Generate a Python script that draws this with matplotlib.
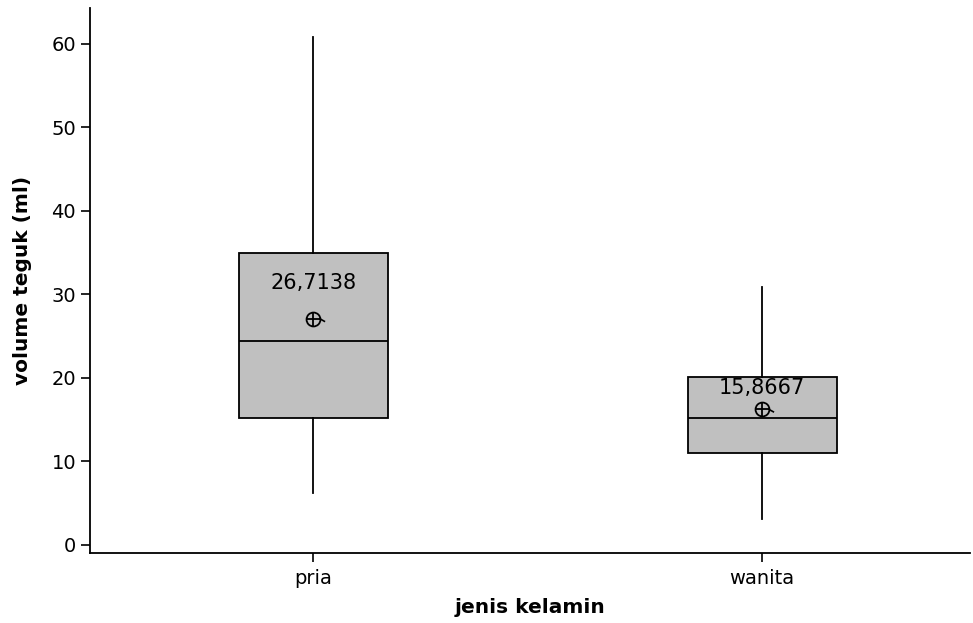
import matplotlib.pyplot as plt
import numpy as np

# Daten
kategorien = ["pria", "wanita"]
whisker_unten = [6.2, 3.1]
q1 = [15.2, 11.0]
median = [24.4, 15.2]
q3 = [35.0, 20.1]
whisker_oben = [60.8, 30.9]
mittelwert = [26.7138, 15.8667]
mittelwert_text = ["26,7138", "15,8667"]

fig = plt.figure(figsize=(9.73, 6.23), dpi=100)
ax = fig.add_axes([90 / 973, 1 - 553 / 623, 880 / 973, 545 / 623])

stats = []
for i, k in enumerate(kategorien):
    stats.append({"label": k, "whislo": whisker_unten[i], "q1": q1[i], "med": median[i],
                  "q3": q3[i], "whishi": whisker_oben[i], "fliers": []})

pos = np.arange(1, len(kategorien) + 1)
ax.bxp(stats, positions=pos, widths=0.332, showcaps=False, patch_artist=True,
       boxprops=dict(facecolor="#c0c0c0", edgecolor="black", linewidth=1.3),
       medianprops=dict(color="black", linewidth=1.3),
       whiskerprops=dict(color="black", linewidth=1.3))

# Mittelwert-Symbol (Kreis mit Kreuz) + Beschriftung
text_abstand = [4.3, 2.5]  # Abstand der Beschriftung über dem Symbol
for p, m, t, d in zip(pos, mittelwert, mittelwert_text, text_abstand):
    mm = m + 0.35
    ax.plot(p, mm, marker="o", markersize=10, markerfacecolor="none",
            markeredgecolor="black", markeredgewidth=1.3, zorder=5)
    ax.plot(p, mm, marker="+", markersize=10, color="black", markeredgewidth=1.3, zorder=5)
    ax.plot([p + 0.015, p + 0.025], [mm, mm - 0.3], color="black", linewidth=1.2, zorder=5)
    ax.text(p, mm + d, t, ha="center", va="center", fontsize=15)

ax.set_xlim(0.503, 2.463)
ax.set_ylim(-1, 64.3)
ax.set_xticks(pos)
ax.set_xticklabels(kategorien, fontsize=14)
ax.set_yticks([0, 10, 20, 30, 40, 50, 60])
ax.tick_params(axis="y", labelsize=14, length=6.5, width=1.2)
ax.tick_params(axis="x", length=6.5, width=1.2, pad=5)
ax.spines["top"].set_visible(False)
ax.spines["right"].set_visible(False)
ax.spines["left"].set_linewidth(1.3)
ax.spines["bottom"].set_linewidth(1.3)
ax.set_xlabel("jenis kelamin", fontsize=14.5, fontweight="bold", labelpad=7)
ax.set_ylabel("volume teguk (ml)", fontsize=14.5, fontweight="bold", labelpad=14)

fig.savefig("out.png", dpi=100)
